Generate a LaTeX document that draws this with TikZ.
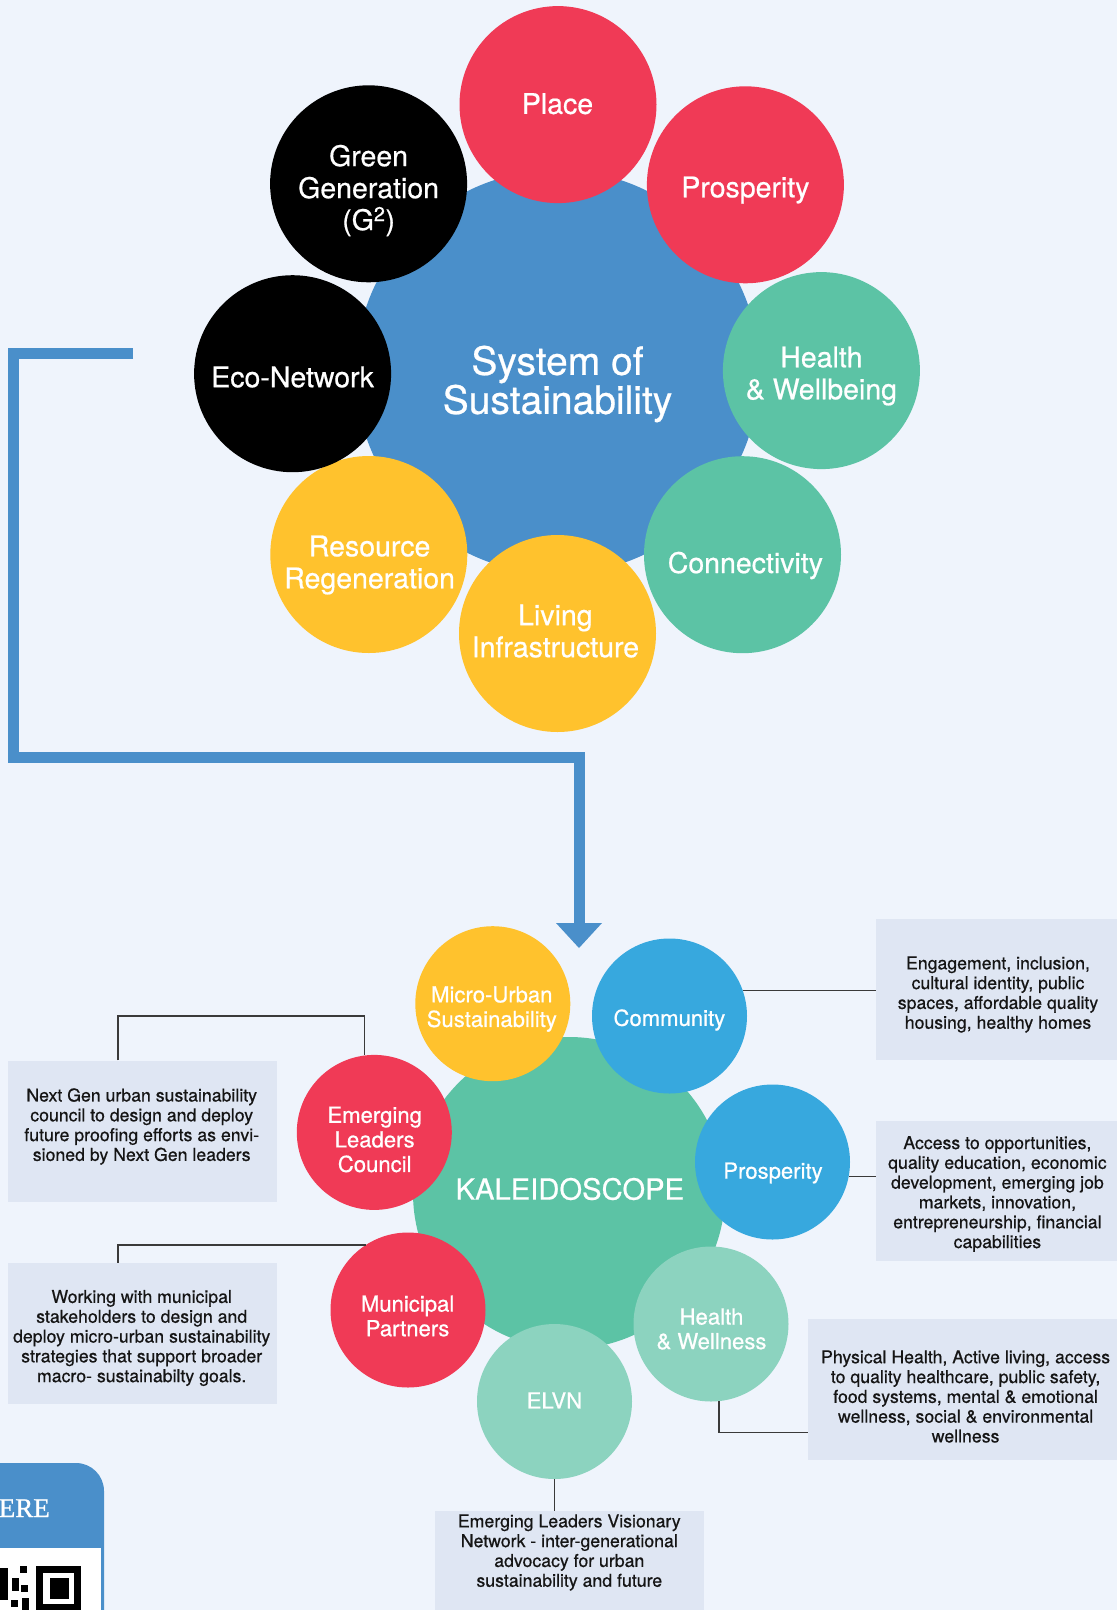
\documentclass[tikz,border=0pt]{standalone}
\usepackage{fontspec}
\setmainfont{TeX Gyre Heros}[FakeBold=0.6]
\newfontfamily\cardserif{Liberation Serif}[FakeBold=0.8]
\definecolor{bgcol}{HTML}{EFF4FC}
\definecolor{boxfill}{HTML}{DFE6F3}
\definecolor{redc}{HTML}{F03A56}
\definecolor{flowblue}{HTML}{4A8FCA}
\definecolor{greenc}{HTML}{5CC3A5}
\definecolor{yellowc}{HTML}{FFC22D}
\definecolor{skyc}{HTML}{37A8DE}
\definecolor{mintc}{HTML}{8CD3BF}
\definecolor{linkgray}{HTML}{3A3A3A}
\definecolor{inktext}{HTML}{151515}
\begin{document}
\begin{tikzpicture}[x=1pt,y=-1pt,
  topball/.style={circle,inner sep=0pt,minimum size=197pt},
  botball/.style={circle,inner sep=0pt,minimum size=155pt},
  toplabel/.style={text=white,align=center,font=\fontsize{28.5}{32}\selectfont,inner sep=0pt},
  botlabel/.style={text=white,align=center,font=\fontsize{22.1}{24.6}\selectfont,inner sep=0pt},
  infobox/.style={fill=boxfill,inner sep=0pt},
  infotext/.style={text=inktext,align=center,font=\fontsize{17.7}{19.8}\selectfont,inner sep=0pt},
  linkline/.style={draw=linkgray,line width=1.3pt},
  flowline/.style={draw=flowblue,line width=11pt}
]
\clip (0,0) rectangle (1117,1610);
\fill[bgcol] (0,0) rectangle (1117,1610);

% ---------- top system ----------
\node[circle,inner sep=0pt,minimum size=404pt,fill=flowblue] (system) at (557.5,372) {};
\node[topball,fill=redc] (place) at (558,104.6) {};
\node[topball,fill=redc] (prosp) at (745.4,184.8) {};
\node[topball,fill=greenc] (health) at (821.4,370.6) {};
\node[topball,fill=greenc] (connect) at (742.5,554.7) {};
\node[topball,fill=yellowc] (living) at (557.5,633.5) {};
\node[topball,fill=yellowc] (resource) at (368.8,554.5) {};
\node[topball,fill=black] (eco) at (292.6,373.7) {};
\node[topball,fill=black] (green) at (368.6,183.8) {};

\node[text=white,align=center,font=\fontsize{39}{39}\selectfont,inner sep=0pt] (tsystem) at (557.5,384) {System of\\Sustainability};
\node[toplabel] (tplace) at (557.5,103.7) {Place};
\node[toplabel] (tprosp) at (745.4,190) {Prosperity};
\node[toplabel] (thealth) at (821.4,376) {Health\\\& Wellbeing};
\node[toplabel] (tconnect) at (745.4,565.5) {Connectivity};
\node[toplabel] (tliving) at (555.4,631) {Living\\Infrastructure};
\node[toplabel] (tresource) at (369.6,565) {Resource\\Regeneration};
\node[toplabel] (teco) at (292.6,377) {Eco-Network};
\node[toplabel] (tgreen) at (368.6,190.5) {Green\\Generation\\(G\textsuperscript{2})};

% ---------- flow arrow ----------
\coordinate (flowstart) at (133,353.5);
\coordinate (flowend) at (579,923);
\draw[flowline] (flowstart) -- (13,353.5) -- (13,757) -- (579,757) -- (flowend);
\fill[flowblue] (flowend) ++(-23,0) -- ++(46,0) -- ++(-23,25) -- cycle;

% ---------- kaleidoscope ----------
\node[circle,inner sep=0pt,minimum size=312pt,fill=greenc] (kaleido) at (569,1193) {};
\node[botball,fill=yellowc] (micro) at (492.8,1003.7) {};
\node[botball,fill=skyc] (community) at (669.5,1016) {};
\node[botball,fill=skyc] (prosp2) at (772.5,1162) {};
\node[botball,fill=mintc] (health2) at (711,1324) {};
\node[botball,fill=mintc] (elvn) at (554.5,1401.5) {};
\node[botball,fill=redc] (municipal) at (408,1310) {};
\node[botball,fill=redc] (emerging) at (374.3,1132.4) {};

\node[text=white,font=\fontsize{29.2}{30}\selectfont,inner sep=0pt] (tkaleido) at (569.8,1189) {KALEIDOSCOPE};
\node[botlabel] (tmicro) at (491.8,1009) {Micro-Urban\\Sustainability};
\node[botlabel] (tcommunity) at (669.4,1020) {Community};
\node[botlabel] (tprosp2) at (773,1173) {Prosperity};
\node[botlabel] (thealth2) at (711.5,1329) {Health\\\& Wellness};
\node[botlabel] (telvn) at (554.4,1400.4) {ELVN};
\node[botlabel] (tmunicipal) at (407.6,1316) {Municipal\\Partners};
\node[botlabel] (temerging) at (374.7,1139.5) {Emerging\\Leaders\\Council};

% ---------- info boxes ----------
\node[infobox,minimum width=268.8pt,minimum height=141.7pt] (nextbox) at (142.6,1131.5) {};
\node[infobox,minimum width=268.8pt,minimum height=141.7pt] (workbox) at (142.6,1333.6) {};
\node[infobox,minimum width=254pt,minimum height=140.7pt] (engage) at (1003,989.3) {};
\node[infobox,minimum width=254pt,minimum height=139.8pt] (access) at (1003,1191) {};
\node[infobox,minimum width=322pt,minimum height=141pt] (physbox) at (969,1389.5) {};
\node[infobox,minimum width=269pt,minimum height=109pt] (elvnbox) at (569.5,1565.5) {};

\node[infotext] (tnext) at (141.7,1126.5) {Next Gen urban sustainability\\council to design and deploy\\future proofing efforts as envi-\\sioned by Next Gen leaders};
\node[infotext] (twork) at (141.7,1338) {Working with municipal\\stakeholders to design and\\deploy micro-urban sustainability\\strategies that support broader\\macro- sustainabilty goals.};
\node[infotext] (tengage) at (998,994.5) {Engagement, inclusion,\\cultural identity, public\\spaces, affordable quality\\housing, healthy homes};
\node[infotext] (taccess) at (997.4,1194) {Access to opportunities,\\quality education, economic\\development, emerging job\\markets, innovation,\\entrepreneurship, financial\\capabilities};
\node[infotext] (tphys) at (965.6,1396.5) {Physical Health, Active living, access\\to quality healthcare, public safety,\\food systems, mental \& emotional\\wellness, social \& environmental\\wellness};
\node[infotext] (telvnbox) at (569.3,1552.5) {Emerging Leaders Visionary\\Network - inter-generational\\advocacy for urban\\sustainability and future};

% ---------- connectors ----------
\draw[linkline] ([xshift=-24.6pt]nextbox.north) -- ++(0,-44.6) -| ([xshift=-10pt]emerging.north);
\draw[linkline] ([xshift=-24.6pt]workbox.north) |- (municipal.123);
\draw[linkline] (community.19) -- (community.19 -| engage.west);
\draw[linkline] (prosp2.-11.6) -- (prosp2.-11.6 -| access.west);
\draw[linkline] (health2.-84.6) |- ([yshift=-43.2pt]physbox.west);
\draw[linkline] (elvn.south) -- (elvn.south |- elvnbox.north);

% ---------- QR card ----------
\fill[flowblue,rounded corners=28pt] (-40,1463) rectangle (104,1670);
\fill[white] (-10,1548) rectangle (100.7,1620);
\node[anchor=base east,text=white,font=\cardserif\fontsize{27}{30}\selectfont,inner sep=0pt] (cardtitle) at (50,1517) {ERE};
\fill[black] (36,1566) rectangle (80.5,1620);
\fill[white] (42.5,1572.5) rectangle (74,1604);
\fill[black] (49.5,1577.5) rectangle (68.5,1598.5);
\fill[black] (0,1568) rectangle (8,1600);
\fill[black] (12,1578) rectangle (19,1591);
\fill[black] (20,1566) rectangle (27,1573);
\fill[black] (21,1585) rectangle (28,1592);
\fill[black] (22,1598) rectangle (29,1610);
\fill[black] (11,1600) rectangle (18,1607);
\end{tikzpicture}
\end{document}
